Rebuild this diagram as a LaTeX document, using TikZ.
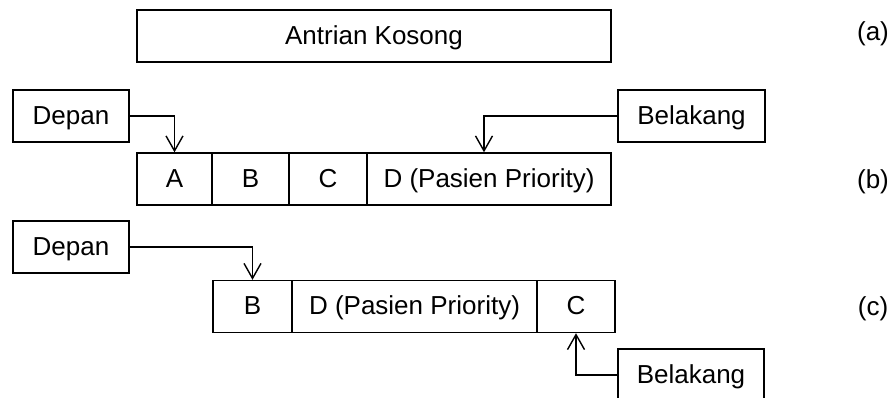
\documentclass[tikz,border=0pt]{standalone}
\usepackage{fontspec}
\setmainfont{Liberation Sans}
\usetikzlibrary{arrows.meta}
\begin{document}
\begin{tikzpicture}[x=1pt,y=-1pt,
  box/.style={draw,line width=1.4pt,inner sep=0pt,minimum height=52pt,anchor=center,
    text height=21pt,text depth=4pt,font=\fontsize{26}{30}\selectfont},
  lbl/.style={inner sep=0pt,font=\fontsize{26}{30}\selectfont},
  conn/.style={line width=1.4pt,-{Straight Barb[length=15pt,width=17pt,line width=1.4pt]}}]
\useasboundingbox (0,0) rectangle (892,398);
\clip (0,0) rectangle (892,398);
% (a)
\node[box,minimum width=474pt] (empty) at (374,36) {Antrian Kosong};
\node[lbl] (la) at (873,34) {(a)};
% (b)
\node[box,minimum width=116pt] (depb) at (71,116) {Depan};
\node[box,minimum width=147pt] (belb) at (691.5,116) {Belakang};
\node[box,minimum width=75pt] (Ab) at (174.5,179) {A};
\node[box,minimum width=77pt] (Bb) at (250.5,179) {B};
\node[box,minimum width=78pt] (Cb) at (328,179) {C};
\node[box,minimum width=244pt] (Db) at (489,179) {D (Pasien Priority)};
\node[lbl] (lb) at (873,182) {(b)};
\draw[conn] (depb.east) -| (Ab.north);
\coordinate (tailb) at ([xshift=-5pt]Db.north);
\draw[conn] (belb.west) -| (tailb);
% (c)
\node[box,minimum width=116pt] (depc) at (71,247) {Depan};
\node[box,minimum width=79pt] (Bc) at (252.5,306.5) {B};
\node[box,minimum width=245pt] (Dc) at (414.5,306.5) {D (Pasien Priority)};
\node[box,minimum width=78pt] (Cc) at (576,306.5) {C};
\node[box,minimum width=146pt] (belc) at (691,375) {Belakang};
\node[lbl] (lc) at (873,309) {(c)};
\draw[conn] (depc.east) -| (Bc.north);
\draw[conn] (belc.west) -| (Cc.south);
\end{tikzpicture}
\end{document}
